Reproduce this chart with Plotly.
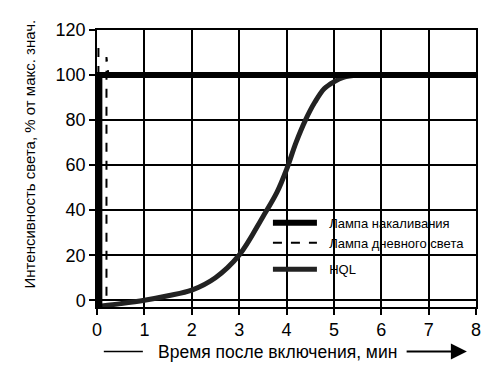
import plotly.graph_objects as go

# Incandescent lamp (instant on)
inc_x = [0.05, 0.05, 8.0]
inc_y = [-3, 100, 100]

# Fluorescent lamp (dashed, small overshoot)
flu_x = [0.03, 0.03, None, 0.2, 0.2, 0.24, 8.0]
flu_y = [100, 113, None, 2, 108, 100, 100]

# HQL lamp
hql_x = [0.1, 0.5, 1.0, 1.5, 2.0, 2.5, 3.0, 3.5, 3.8, 4.0, 4.2, 4.4, 4.6, 4.8, 5.0, 5.2, 5.5, 6.0]
hql_y = [-2.5, -1.5, 0, 2, 4.5, 10, 20, 37, 48, 58, 70, 80, 88, 94, 97, 99, 100, 100]

x_ticks = [0, 1, 2, 3, 4, 5, 6, 7, 8]
y_ticks = [0, 20, 40, 60, 80, 100, 120]

FONT = "Liberation Sans, Arial, sans-serif"
NB = "\u00a0\u00a0"

fig = go.Figure()
fig.add_trace(go.Scatter(x=hql_x, y=hql_y, mode="lines", name=NB + "HQL",
                         line=dict(color="#222222", width=5, shape="spline"),
                         legend="legend2"))
fig.add_trace(go.Scatter(x=flu_x, y=flu_y, mode="lines", name=NB + "Лампа дневного света",
                         line=dict(color="black", width=2, dash="dash"),
                         legendrank=2))
fig.add_trace(go.Scatter(x=inc_x, y=inc_y, mode="lines", name=NB + "Лампа накаливания",
                         line=dict(color="black", width=6),
                         legendrank=1))

axis_common = dict(showgrid=True, gridcolor="black", gridwidth=1.5,
                   showline=True, linecolor="black", linewidth=1.5, mirror=True,
                   ticks="outside", ticklen=6, tickcolor="black", tickwidth=1.5,
                   zeroline=False, tickfont=dict(family=FONT, size=18, color="black"))

fig.update_xaxes(range=[0, 8], tickvals=x_ticks, **axis_common)
fig.update_yaxes(range=[-3, 120], tickvals=y_ticks, **axis_common)

leg_common = dict(xanchor="left", yanchor="top", bgcolor="rgba(255,255,255,0)",
                  borderwidth=0, font=dict(family=FONT, size=13, color="black"),
                  itemwidth=44)

fig.update_layout(
    width=492, height=372,
    margin=dict(l=89, r=24, t=14, b=73),
    paper_bgcolor="white", plot_bgcolor="white",
    font=dict(family=FONT, color="black"),
    showlegend=True,
    legend=dict(x=0.451, y=0.358, **leg_common),
    legend2=dict(x=0.451, y=0.19, **leg_common),
    annotations=[
        dict(text="Интенсивность света, % от макс. знач.", xref="paper", yref="paper",
             x=-0.177, y=0.554, textangle=-90, showarrow=False,
             font=dict(family=FONT, size=15, color="black"),
             xanchor="center", yanchor="middle"),
        dict(text="Время после включения, мин", xref="paper", yref="paper",
             x=0.475, y=-0.161, showarrow=False,
             font=dict(family=FONT, size=17.5, color="black"),
             xanchor="center", yanchor="middle"),
        dict(text="", xref="x domain", yref="y domain", x=0.976, y=-0.161,
             ax=0.813, ay=-0.161, axref="x domain", ayref="y domain",
             showarrow=True, arrowhead=2, arrowsize=1.6, arrowwidth=2, arrowcolor="black"),
    ],
    shapes=[
        dict(type="line", xref="paper", yref="paper", x0=0.018, x1=0.121,
             y0=-0.161, y1=-0.161, line=dict(color="black", width=1.5)),
    ],
)

fig.write_html("out.html")
